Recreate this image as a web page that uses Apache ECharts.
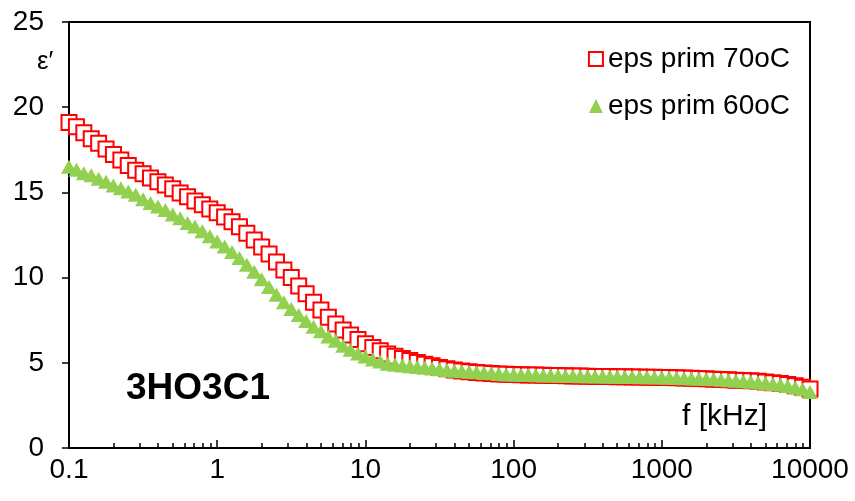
<!DOCTYPE html>
<html>
<head>
<meta charset="utf-8">
<script src="https://cdn.jsdelivr.net/npm/echarts@6/dist/echarts.min.js"></script>
<style>
html, body { margin: 0; padding: 0; background: #fff; }
#main { width: 855px; height: 501px; }
</style>
</head>
<body>
<div id="main"></div>
<script>
// frequency in kHz, 20 points per decade
var freq = [0.1, 0.1122, 0.1259, 0.1413, 0.1585, 0.1778, 0.1995, 0.2239, 0.2512, 0.2818, 0.3162, 0.3548, 0.3981, 0.4467, 0.5012, 0.5623, 0.631, 0.7079, 0.7943, 0.8913,
    1, 1.122, 1.259, 1.413, 1.585, 1.778, 1.995, 2.239, 2.512, 2.818, 3.162, 3.548, 3.981, 4.467, 5.012, 5.623, 6.31, 7.079, 7.943, 8.913,
    10, 11.22, 12.59, 14.13, 15.85, 17.78, 19.95, 22.39, 25.12, 28.18, 31.62, 35.48, 39.81, 44.67, 50.12, 56.23, 63.1, 70.79, 79.43, 89.13,
    100, 112.2, 125.9, 141.3, 158.5, 177.8, 199.5, 223.9, 251.2, 281.8, 316.2, 354.8, 398.1, 446.7, 501.2, 562.3, 631, 707.9, 794.3, 891.3,
    1000, 1122, 1259, 1413, 1585, 1778, 1995, 2239, 2512, 2818, 3162, 3548, 3981, 4467, 5012, 5623, 6310, 7079, 7943, 8913, 10000];

var eps70 = [19.1, 18.85, 18.5, 18.15, 17.88, 17.55, 17.22, 16.9, 16.58, 16.3, 16.1, 15.85, 15.63, 15.43, 15.22, 14.97, 14.75, 14.5, 14.28, 14.02,
    13.8, 13.55, 13.28, 12.98, 12.6, 12.2, 11.8, 11.38, 10.92, 10.45, 10.0, 9.5, 9.05, 8.55, 8.1, 7.68, 7.28, 6.93, 6.63, 6.37,
    6.12, 5.9, 5.7, 5.52, 5.38, 5.25, 5.13, 5.02, 4.92, 4.82, 4.73, 4.65, 4.58, 4.52, 4.47, 4.43, 4.4, 4.37, 4.35, 4.33,
    4.31, 4.3, 4.29, 4.28, 4.27, 4.26, 4.25, 4.24, 4.23, 4.22, 4.21, 4.2, 4.2, 4.19, 4.18, 4.18, 4.17, 4.16, 4.15, 4.15,
    4.14, 4.13, 4.12, 4.11, 4.09, 4.08, 4.06, 4.04, 4.02, 4.0, 3.98, 3.96, 3.94, 3.91, 3.87, 3.83, 3.78, 3.72, 3.65, 3.56, 3.46];

var eps60 = [16.5, 16.33, 16.13, 16.0, 15.8, 15.62, 15.4, 15.25, 15.05, 14.86, 14.6, 14.38, 14.17, 13.97, 13.7, 13.49, 13.2, 13.0, 12.72, 12.43,
    12.12, 11.83, 11.5, 11.15, 10.75, 10.35, 9.9, 9.45, 9.0, 8.55, 8.15, 7.8, 7.45, 7.12, 6.85, 6.55, 6.3, 6.0, 5.76, 5.55,
    5.37, 5.2, 5.07, 4.95, 4.88, 4.84, 4.8, 4.76, 4.71, 4.67, 4.62, 4.58, 4.54, 4.5, 4.47, 4.44, 4.41, 4.38, 4.35, 4.32,
    4.3, 4.29, 4.28, 4.27, 4.26, 4.25, 4.24, 4.23, 4.22, 4.21, 4.21, 4.2, 4.19, 4.18, 4.18, 4.17, 4.16, 4.15, 4.15, 4.14,
    4.13, 4.12, 4.11, 4.1, 4.08, 4.07, 4.05, 4.03, 4.0, 3.98, 3.95, 3.92, 3.89, 3.85, 3.81, 3.76, 3.71, 3.64, 3.55, 3.45, 3.28];

var xTicks = [0.1, 1, 10, 100, 1000, 10000];
var yTicks = [0, 5, 10, 15, 20, 25];

// minor ticks 2..9 in every decade
var xMinor = [];
for (var d = 0; d < xTicks.length - 1; d++) {
    for (var m = 2; m <= 9; m++) {
        xMinor.push(+(xTicks[d] * m).toPrecision(6));
    }
}

function pairs(xs, ys) {
    var out = [];
    for (var i = 0; i < ys.length; i++) out.push([xs[i], ys[i]]);
    return out;
}

var font = 'Liberation Sans, Arial, sans-serif';

var myChart = echarts.init(document.getElementById('main'));
option = {
    animation: false,
    backgroundColor: '#fff',
    grid: {
        left: 69,
        right: 45,
        top: 22,
        bottom: 53,
        show: true,
        borderColor: '#000',
        borderWidth: 2
    },
    legend: {
        orient: 'vertical',
        right: 60,
        top: 40,
        itemGap: 19,
        itemWidth: 14,
        itemHeight: 14,
        textStyle: { fontFamily: font, fontSize: 28, color: '#000' },
        data: [
            { name: 'eps prim 70oC', icon: 'rect' },
            { name: 'eps prim 60oC', icon: 'triangle' }
        ]
    },
    xAxis: [
        {
            type: 'log',
            logBase: 10,
            min: 0.1,
            max: 10000,
            splitLine: { show: false },
            axisLine: { lineStyle: { color: '#000', width: 2 } },
            axisTick: { inside: true, length: 8, customValues: xTicks, lineStyle: { color: '#000', width: 1.5 } },
            axisLabel: {
                customValues: xTicks,
                margin: 8,
                fontFamily: font,
                fontSize: 28,
                color: '#000',
                formatter: function (v) { return String(+(+v).toPrecision(6)); }
            }
        },
        {
            type: 'log',
            logBase: 10,
            min: 0.1,
            max: 10000,
            position: 'bottom',
            offset: 0,
            splitLine: { show: false },
            axisLine: { show: false },
            axisTick: { inside: true, length: 5, customValues: xMinor, lineStyle: { color: '#000', width: 1.5 } },
            axisLabel: { show: false }
        }
    ],
    yAxis: {
        type: 'value',
        min: 0,
        max: 25,
        interval: 5,
        splitLine: { show: false },
        axisLine: { show: true, lineStyle: { color: '#000', width: 2 } },
        axisTick: { show: true, length: 7, lineStyle: { color: '#000', width: 1.5 } },
        axisLabel: {
            margin: 25,
            fontFamily: font,
            fontSize: 28,
            color: '#000',
            formatter: function (v) { return yTicks.indexOf(v) >= 0 ? String(v) : ''; }
        }
    },
    graphic: [
        {
            type: 'text',
            left: 37,
            top: 49,
            style: { text: 'ε′', font: '26px ' + font, fill: '#000' }
        },
        {
            type: 'text',
            left: 126,
            top: 370,
            style: { text: '3HO3C1', font: 'bold 37px ' + font, fill: '#000' }
        },
        {
            type: 'text',
            left: 682,
            top: 402,
            style: { text: 'f [kHz]', font: '30px ' + font, fill: '#000' }
        }
    ],
    series: [
        {
            name: 'eps prim 70oC',
            type: 'scatter',
            symbol: 'rect',
            symbolSize: 15,
            itemStyle: { color: '#fff', borderColor: '#ff0000', borderWidth: 2, opacity: 1 },
            data: pairs(freq, eps70)
        },
        {
            name: 'eps prim 60oC',
            type: 'scatter',
            symbol: 'triangle',
            symbolSize: [16, 14],
            itemStyle: { color: '#92d050', opacity: 1 },
            data: pairs(freq, eps60)
        }
    ]
};

myChart.setOption(option);
</script>
</body>
</html>
